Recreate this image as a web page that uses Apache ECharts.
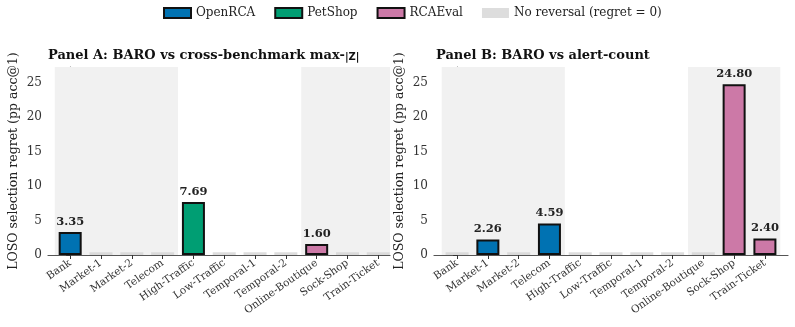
<!DOCTYPE html>
<html>
<head>
<meta charset="utf-8">
<script src="https://cdn.jsdelivr.net/npm/echarts@6/dist/echarts.min.js"></script>
<style>
  html, body { margin: 0; padding: 0; background: #fff; }
  #chart { width: 795px; height: 327px; }
</style>
</head>
<body>
<div id="chart"></div>
<script>
const categories = ['Bank', 'Market-1', 'Market-2', 'Telecom', 'High-Traffic', 'Low-Traffic',
  'Temporal-1', 'Temporal-2', 'Online-Boutique', 'Sock-Shop', 'Train-Ticket']
const benchmarkOf = ['OpenRCA', 'OpenRCA', 'OpenRCA', 'OpenRCA', 'PetShop', 'PetShop',
  'PetShop', 'PetShop', 'RCAEval', 'RCAEval', 'RCAEval']
const benchmarks = ['OpenRCA', 'PetShop', 'RCAEval']
// regret in pp acc@1, 0 = no reversal
const regretA = [3.35, 0, 0, 0, 7.69, 0, 0, 0, 1.60, 0, 0]
const regretB = [0, 2.26, 0, 4.59, 0, 0, 0, 0, 0, 24.80, 2.40]
const yTicks = [0, 5, 10, 15, 20, 25]
const noReversalStub = 0.4

const colors = { OpenRCA: '#0072B2', PetShop: '#009E73', RCAEval: '#CC79A7' }
const font = 'DejaVu Serif'
const catIdx = categories.map((_, i) => i)

const chart = echarts.init(document.getElementById('chart'))

const panels = [
  { data: regretA, left: 48, width: 342, xMin: -0.72, xMax: 10.38 },
  { data: regretB, left: 434, width: 354, xMin: -0.75, xMax: 10.75 }
]

const grid = panels.map(p => ({ left: p.left, width: p.width, top: 67, bottom: 72 }))

const xAxis = panels.map((p, i) => ({
  type: 'value',
  gridIndex: i,
  min: p.xMin,
  max: p.xMax,
  splitLine: { show: false },
  axisLine: { onZero: false, lineStyle: { color: '#555', width: 1.2 } },
  axisTick: { customValues: catIdx, length: 4, lineStyle: { color: '#333' } },
  axisLabel: {
    customValues: catIdx,
    formatter: v => categories[Math.round(v)],
    rotate: 35,
    margin: 7,
    fontFamily: font,
    fontSize: 10.5,
    color: '#333'
  }
}))

const yAxis = panels.map((p, i) => ({
  type: 'value',
  gridIndex: i,
  min: 0,
  max: 27.3,
  name: 'LOSO selection regret (pp acc@1)',
  nameLocation: 'middle',
  nameGap: 28,
  nameTextStyle: { fontFamily: font, fontSize: 12.5, color: '#222' },
  splitLine: { show: false },
  axisLine: { show: true, lineStyle: { color: '#555', width: 1.2 } },
  axisTick: { show: true, customValues: yTicks, length: 4, lineStyle: { color: '#333' } },
  axisLabel: { customValues: yTicks, fontFamily: font, fontSize: 12, color: '#333', margin: 6 }
}))

const series = []
panels.forEach((p, i) => {
  // shaded benchmark groups
  series.push({
    type: 'bar',
    xAxisIndex: i,
    yAxisIndex: i,
    data: [],
    silent: true,
    markArea: {
      silent: true,
      itemStyle: { color: '#f1f1f1' },
      data: [
        [{ xAxis: -0.5 }, { xAxis: 3.5 }],
        [{ xAxis: 7.5 }, { xAxis: Math.min(10.5, p.xMax) }]
      ]
    }
  })
  benchmarks.forEach(b => {
    series.push({
      name: b,
      type: 'bar',
      xAxisIndex: i,
      yAxisIndex: i,
      barWidth: 23,
      barGap: '-100%',
      z: 3,
      itemStyle: { color: colors[b], borderColor: '#111', borderWidth: 2 },
      label: {
        show: true,
        position: 'top',
        distance: 4,
        formatter: d => d.value[1].toFixed(2),
        fontFamily: font,
        fontWeight: 'bold',
        fontSize: 11.5,
        color: '#222'
      },
      data: catIdx.filter(k => benchmarkOf[k] === b && p.data[k] > 0).map(k => [k, p.data[k]])
    })
  })
  series.push({
    name: 'No reversal (regret = 0)',
    type: 'bar',
    xAxisIndex: i,
    yAxisIndex: i,
    barWidth: 23,
    barGap: '-100%',
    z: 2,
    itemStyle: { color: '#d4d4d4', opacity: 0.8 },
    data: catIdx.filter(k => p.data[k] === 0).map(k => [k, noReversalStub])
  })
})

const option = {
  animation: false,
  backgroundColor: '#fff',
  legend: {
    top: 7,
    left: 163,
    padding: 0,
    icon: 'rect',
    itemWidth: 27,
    itemHeight: 10,
    itemGap: 19,
    textStyle: { fontFamily: font, fontSize: 12, color: '#222' },
    data: ['OpenRCA', 'PetShop', 'RCAEval', 'No reversal (regret = 0)']
  },
  title: [
    {
      left: 48,
      top: 49,
      padding: 0,
      text: '{b|Panel A: BARO vs cross-benchmark max-}{z||Z|}',
      textStyle: {
        rich: {
          b: { fontFamily: font, fontWeight: 'bold', fontSize: 13, color: '#111' },
          z: { fontFamily: 'DejaVu Sans', fontSize: 10, color: '#111', padding: [3, 0, 0, 0] }
        }
      }
    },
    {
      left: 436,
      top: 49,
      padding: 0,
      text: 'Panel B: BARO vs alert-count',
      textStyle: { fontFamily: font, fontWeight: 'bold', fontSize: 13, color: '#111' }
    }
  ],
  grid,
  xAxis,
  yAxis,
  series
}

chart.setOption(option)
</script>
</body>
</html>
